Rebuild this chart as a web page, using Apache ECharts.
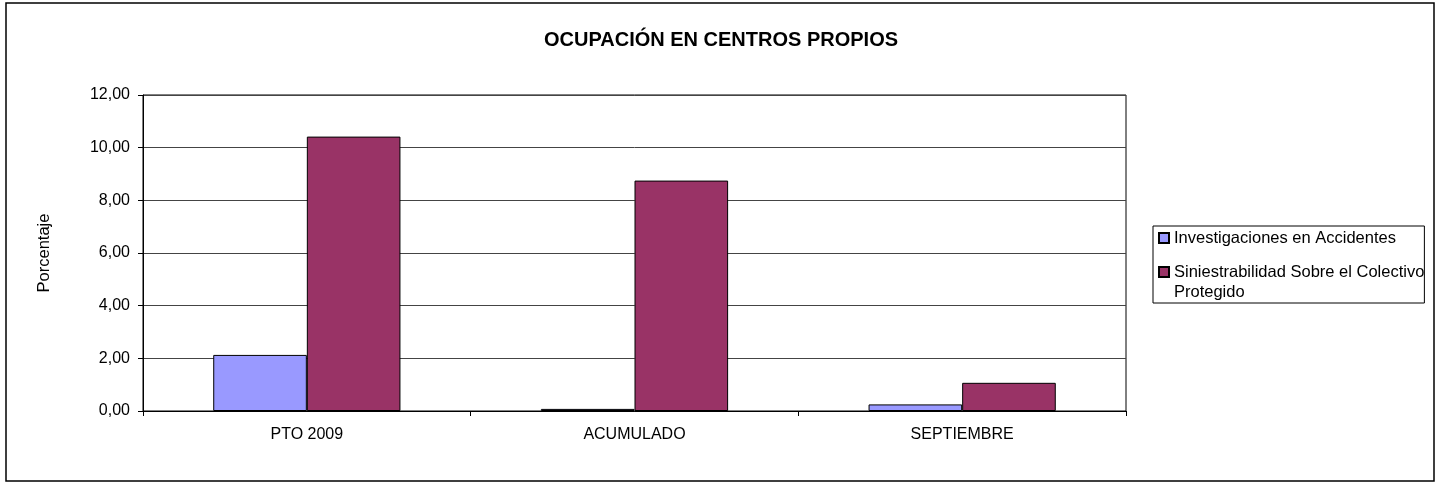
<!DOCTYPE html>
<html>
<head>
<meta charset="utf-8">
<script src="https://cdn.jsdelivr.net/npm/echarts@6/dist/echarts.min.js"></script>
<style>
  html, body { margin: 0; padding: 0; background: #fff; }
  #chart { width: 1442px; height: 484px; }
</style>
</head>
<body>
<div id="chart"></div>
<script>
const categorias = ['PTO 2009', 'ACUMULADO', 'SEPTIEMBRE'];
const investigaciones = [2.13, 0.08, 0.25];
const siniestrabilidad = [10.42, 8.75, 1.07];
const nombres = ['Investigaciones en Accidentes', 'Siniestrabilidad Sobre el Colectivo Protegido'];

const fuente = 'Arial, "Liberation Sans", sans-serif';
const chart = echarts.init(document.getElementById('chart'), null, { renderer: 'canvas' });

const option = {
    backgroundColor: '#fff',
    animation: false,
    textStyle: { fontFamily: fuente, color: '#000' },
    title: {
        text: 'OCUPACIÓN EN CENTROS PROPIOS',
        left: 'center',
        top: 25,
        textStyle: { fontFamily: fuente, fontSize: 20, fontWeight: 'bold', color: '#000' }
    },
    graphic: [{
        type: 'rect',
        shape: { x: 6, y: 3, width: 1428, height: 478 },
        style: { fill: 'none', stroke: '#000', lineWidth: 1.5 },
        silent: true
    }],
    legend: {
        orient: 'vertical',
        left: 1153,
        top: 226,
        data: nombres,
        icon: 'rect',
        itemWidth: 10,
        itemHeight: 10,
        itemGap: -6,
        padding: [2, 0, 1, 5],
        borderColor: '#000',
        borderWidth: 1,
        textStyle: { fontFamily: fuente, fontSize: 16.5, lineHeight: 20, color: '#000' },
        // linea vacia delante: asi el icono queda a la altura de la primera linea
        formatter: function (name) {
            return name === nombres[1] ? '\nSiniestrabilidad Sobre el Colectivo\nProtegido' : name;
        }
    },
    grid: {
        left: 143,
        right: 316,
        top: 95,
        bottom: 73,
        show: true,
        borderColor: '#000',
        borderWidth: 1
    },
    xAxis: {
        type: 'category',
        data: categorias,
        axisLine: { lineStyle: { color: '#000', width: 1 } },
        axisTick: { show: true, length: 5, inside: false, lineStyle: { color: '#000' } },
        axisLabel: { fontFamily: fuente, fontSize: 16, color: '#000', margin: 16 }
    },
    yAxis: {
        type: 'value',
        min: 0,
        max: 12,
        interval: 2,
        name: 'Porcentaje',
        nameLocation: 'middle',
        nameGap: 90,
        nameTextStyle: { fontFamily: fuente, fontSize: 16.5, color: '#000' },
        axisLine: { show: true, lineStyle: { color: '#000', width: 1 } },
        axisTick: { show: true, length: 5, lineStyle: { color: '#000' } },
        axisLabel: {
            fontFamily: fuente, fontSize: 16, color: '#000', margin: 13,
            formatter: function (v) { return v.toFixed(2).replace('.', ','); }
        },
        splitLine: { show: true, lineStyle: { color: '#444', width: 1 } }
    },
    series: [
        {
            name: nombres[0],
            type: 'bar',
            data: investigaciones,
            barGap: '0%',
            barCategoryGap: '42.86%',
            itemStyle: { color: '#9999FF', borderColor: '#000', borderWidth: 1 }
        },
        {
            name: nombres[1],
            type: 'bar',
            data: siniestrabilidad,
            barGap: '0%',
            barCategoryGap: '42.86%',
            itemStyle: { color: '#993366', borderColor: '#000', borderWidth: 1 }
        }
    ]
};

chart.setOption(option);
</script>
</body>
</html>
